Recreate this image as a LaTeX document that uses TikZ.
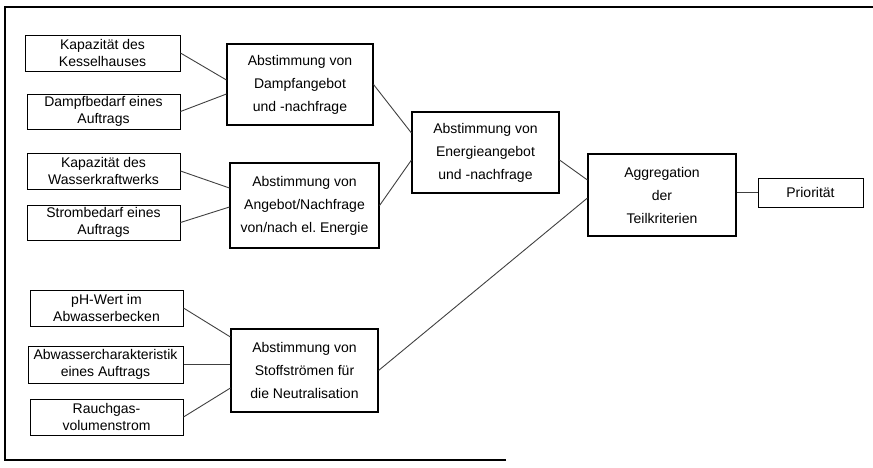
\documentclass[tikz,border=0pt]{standalone}
\usepackage{fontspec}
\setmainfont{Liberation Sans}
\usepackage{tikz}
\usepackage{xcolor}

\begin{document}
\begin{tikzpicture}[x=1pt,y=-1pt,
  every node/.style={font=\fontsize{14}{17}\selectfont},
  krit/.style={draw,line width=1pt,align=center,inner sep=0pt,minimum width=153pt,minimum height=36pt},
  abst/.style={draw,line width=1.1pt,align=center,inner sep=0pt,minimum width=147pt,minimum height=82pt,
    font=\fontsize{14}{23}\selectfont},
  verb/.style={draw=black!75,line width=0.9pt}]
\useasboundingbox (0,0) rectangle (873,467);
% Rahmen
\draw[line width=2pt] (506,460) -- (5,460) -- (5,7) -- (873,7);
% Teilkriterien links
\node[krit,minimum width=155pt] (kessel) at (102.5,53) {Kapazität des\\Kesselhauses};
\node[krit,minimum height=35pt] (dampfbed) at (103.5,111.5) {Dampfbedarf eines\\Auftrags};
\node[krit] (wasser) at (103.5,171) {Kapazität des\\Wasserkraftwerks};
\node[krit,minimum height=35pt] (strom) at (103.5,222.5) {Strombedarf eines\\Auftrags};
\node[krit] (ph) at (106.5,308) {pH-Wert im\\Abwasserbecken};
\node[krit,minimum width=155pt,minimum height=37pt] (abw) at (105.5,364.5) {Abwassercharakteristik\\eines Auftrags};
\node[krit] (rauch) at (106.5,417) {Rauchgas-\\volumenstrom};
% Abstimmungen
\node[abst,minimum width=146pt,minimum height=81pt] (dampf) at (300,84.5) {Abstimmung von\\Dampfangebot\\und -nachfrage};
\node[abst,minimum width=149pt,minimum height=85pt] (elenergie) at (304.5,205.5) {Abstimmung von\\Angebot/Nachfrage\\von/nach el.\ Energie};
\node[abst,minimum height=83pt] (neutral) at (304.5,370.5) {Abstimmung von\\Stoffströmen für\\die Neutralisation};
\node[abst,minimum height=81pt] (energie) at (485.5,152.5) {Abstimmung von\\Energieangebot\\und -nachfrage};
\node[abst,minimum width=148pt] (aggr) at (662,195) {Aggregation\\der\\Teilkriterien};
\node[krit,minimum width=105pt,minimum height=29pt] (prio) at (810.5,192.5) {Priorität};
% Verbindungen
\draw[verb] (kessel.east) -- ([yshift=4.5pt]dampf.west);
\draw[verb] (dampfbed.east) -- ([yshift=-9.5pt]dampf.west);
\draw[verb] (wasser.east) -- ([yshift=17.5pt]elenergie.west);
\draw[verb] (strom.east) -- ([yshift=-1.5pt]elenergie.west);
\draw[verb] (dampf.east) -- ([yshift=19.5pt]energie.west);
\draw[verb] (elenergie.east) -- ([yshift=-7.5pt]energie.west);
\draw[verb] ([yshift=-7.5pt]energie.east) -- ([yshift=15pt]aggr.west);
\draw[verb] (neutral.east) -- ([yshift=-3pt]aggr.west);
\draw[verb] (prio.west -| aggr.east) -- (prio.west);
\draw[verb] (ph.east) -- ([yshift=33.5pt]neutral.west);
\draw[verb] (abw.east) -- (abw.east -| neutral.west);
\draw[verb] (rauch.east) -- ([yshift=-17.5pt]neutral.west);
\end{tikzpicture}
\end{document}
